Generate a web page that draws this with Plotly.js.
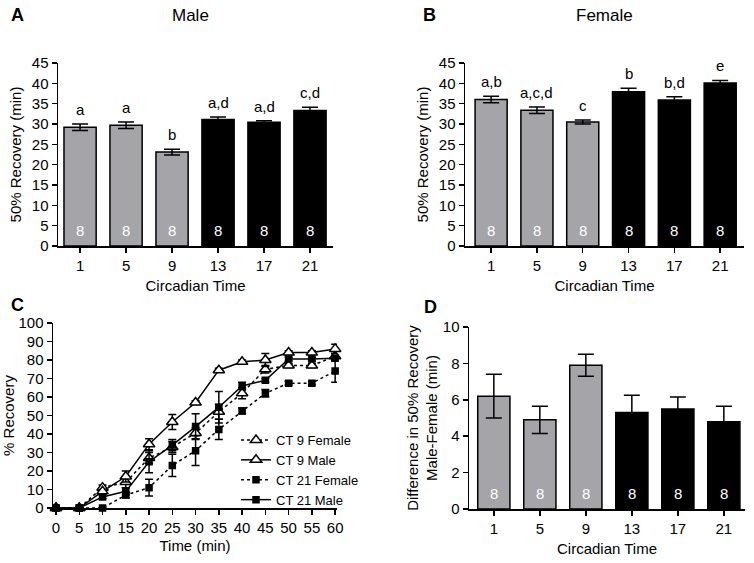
<!DOCTYPE html>
<html>
<head>
<meta charset="utf-8">
<script src="https://cdn.plot.ly/plotly-3.0.1.min.js"></script>
<style>html,body{margin:0;padding:0;background:#fff;}#chart{width:754px;height:563px;}</style>
</head>
<body>
<div id="chart"></div>
<script>
// ---- data ----
const ctLabels = ['1', '5', '9', '13', '17', '21'];
const maleMean = [29.2, 29.7, 23.1, 31.1, 30.4, 33.3];
const maleSem = [0.8, 0.8, 0.7, 0.6, 0.4, 0.8];
const maleLetters = ['a', 'a', 'b', 'a,d', 'a,d', 'c,d'];
const femaleMean = [36.0, 33.4, 30.5, 37.9, 35.9, 40.1];
const femaleSem = [0.8, 0.8, 0.5, 0.9, 0.8, 0.6];
const femaleLetters = ['a,b', 'a,c,d', 'c', 'b', 'b,d', 'e'];
const diffMean = [6.2, 4.9, 7.9, 5.3, 5.5, 4.8];
const diffSem = [1.2, 0.75, 0.6, 0.95, 0.65, 0.85];
const nPerGroup = [8, 8, 8, 8, 8, 8];

const timeMin = [0, 5, 10, 15, 20, 25, 30, 35, 40, 45, 50, 55, 60];
const ct9Female = [0, 0, 11, 14, 27, 33, 40.5, 52, 62, 75, 77, 77, 82];
const ct9FemaleErr = [0, 0, 1.5, 3, 3, 3, 3, 4, 3, 2, 1, 1, 1.5];
const ct9Male = [0, 0, 9, 17, 34.5, 46.5, 57, 74.5, 79, 80, 84, 84, 86];
const ct9MaleErr = [0, 0, 1, 3, 3, 4, 1, 1, 1, 3.5, 1, 1, 2.5];
const ct21Female = [0, 0, 0, 7, 11, 23, 31, 42.5, 52.5, 62, 67.5, 67.5, 74];
const ct21FemaleErr = [0, 0, 0, 1.5, 4.5, 6, 8, 5.5, 1.5, 2, 1, 1, 6];
const ct21Male = [0, 0, 6, 9, 25, 34, 44, 54.5, 66, 69, 80.5, 80.5, 81];
const ct21MaleErr = [0, 0, 1, 2, 6, 3, 7, 8.5, 2, 1, 1, 1, 1.5];

// ---- styles ----
const GRAY = '#a4a4a9';
const barColors = [GRAY, GRAY, GRAY, '#000', '#000', '#000'];
const FONT = 'Arial, "Liberation Sans", sans-serif';
const idx = ctLabels.map((_, i) => i);

function barTrace(vals, errs, xa, ya) {
  return {
    type: 'bar', x: idx, y: vals, xaxis: xa, yaxis: ya, width: 0.7,
    marker: {color: barColors, line: {color: '#000', width: 1.5}},
    error_y: {type: 'data', array: errs, visible: true, color: '#000', thickness: 1.5, width: 8},
    showlegend: false, hoverinfo: 'skip'
  };
}

function lineTrace(name, y, err, dash, symbol, size) {
  return {
    type: 'scatter', mode: 'lines+markers', name: name, x: timeMin, y: y,
    xaxis: 'x3', yaxis: 'y3',
    line: {color: '#000', width: 1.5, dash: dash},
    marker: {symbol: symbol, size: size, color: symbol === 'triangle-up' ? '#fff' : '#000',
             line: {color: '#000', width: 1.5}},
    error_y: {type: 'data', array: err, visible: true, color: '#000', thickness: 1.5, width: 4},
    cliponaxis: false
  };
}

const data = [
  barTrace(maleMean, maleSem, 'x', 'y'),
  barTrace(femaleMean, femaleSem, 'x2', 'y2'),
  barTrace(diffMean, diffSem, 'x4', 'y4'),
  lineTrace('CT 9 Female', ct9Female, ct9FemaleErr, 'dot', 'triangle-up', 10),
  lineTrace('CT 9 Male', ct9Male, ct9MaleErr, 'solid', 'triangle-up', 10),
  lineTrace('CT 21 Female', ct21Female, ct21FemaleErr, 'dot', 'square', 6),
  lineTrace('CT 21 Male', ct21Male, ct21MaleErr, 'solid', 'square', 6)
];

const axisBase = {
  showline: true, linecolor: '#000', linewidth: 1.5, ticks: 'outside', ticklen: 5,
  tickwidth: 1.5, tickcolor: '#000', showgrid: false, zeroline: false,
  tickfont: {family: FONT, size: 15, color: '#000'}, fixedrange: true
};
function catX(domain, range, anchor) {
  return Object.assign({}, axisBase, {
    domain: domain, range: range, anchor: anchor, tickmode: 'array',
    tickvals: idx, ticktext: ctLabels,
    title: {text: 'Circadian Time', font: {family: FONT, size: 15, color: '#000'}, standoff: 8}
  });
}
function valY(domain, range, dtick, anchor, title, standoff) {
  return Object.assign({}, axisBase, {
    domain: domain, range: range, dtick: dtick, tick0: 0, anchor: anchor,
    title: {text: title, font: {family: FONT, size: 15, color: '#000'}, standoff: standoff}
  });
}

const annotations = [];
function addBarLabels(vals, errs, letters, xr, yr) {
  vals.forEach((v, i) => {
    if (letters) {
      annotations.push({xref: xr, yref: yr, x: i, y: v + errs[i], text: letters[i],
        showarrow: false, yanchor: 'bottom', yshift: 4,
        font: {family: FONT, size: 15, color: '#000'}});
    }
    annotations.push({xref: xr, yref: yr, x: i, y: 0, text: String(nPerGroup[i]),
      showarrow: false, yanchor: 'bottom', yshift: 5,
      font: {family: FONT, size: 15, color: '#fff'}});
  });
}
addBarLabels(maleMean, maleSem, maleLetters, 'x', 'y');
addBarLabels(femaleMean, femaleSem, femaleLetters, 'x2', 'y2');
addBarLabels(diffMean, diffSem, null, 'x4', 'y4');

function paperText(text, px, py, size, bold) {
  annotations.push({xref: 'paper', yref: 'paper', x: px / 754, y: 1 - py / 563,
    text: bold ? '<b>' + text + '</b>' : text, showarrow: false,
    xanchor: 'center', yanchor: 'middle',
    font: {family: FONT, size: size, color: '#000'}});
}
paperText('A', 17, 15, 18, true);
paperText('Male', 190, 15, 17, false);
paperText('B', 429, 15, 18, true);
paperText('Female', 604, 15, 17, false);
paperText('C', 17, 305, 18, true);
paperText('D', 430, 307, 18, true);

const layout = {
  width: 754, height: 563,
  margin: {l: 0, r: 0, t: 0, b: 0},
  paper_bgcolor: '#fff', plot_bgcolor: '#fff',
  font: {family: FONT, size: 15, color: '#000'},
  bargap: 0.3,
  xaxis: catX([58 / 754, 333 / 754], [-0.48, 5.5], 'y'),
  yaxis: valY([1 - 246 / 563, 1 - 63 / 563], [0, 45], 5, 'x', '50% Recovery (min)', 6),
  xaxis2: catX([465 / 754, 744 / 754], [-0.57, 5.52], 'y2'),
  yaxis2: valY([1 - 246 / 563, 1 - 63 / 563], [0, 45], 5, 'x2', '50% Recovery (min)', 6),
  xaxis3: Object.assign({}, axisBase, {
    domain: [53 / 754, 337 / 754], range: [-0.65, 60.4], dtick: 5, tick0: 0, anchor: 'y3',
    title: {text: 'Time (min)', font: {family: FONT, size: 15, color: '#000'}, standoff: 6}
  }),
  yaxis3: valY([1 - 508 / 563, 1 - 323 / 563], [0, 100], 10, 'x3', '% Recovery', 6),
  xaxis4: catX([469 / 754, 745 / 754], [-0.54, 5.46], 'y4'),
  yaxis4: valY([1 - 509 / 563, 1 - 327 / 563], [0, 10], 2, 'x4',
    'Difference in 50% Recovery<br>Male-Female (min)', 1),
  legend: {x: 236 / 754, y: 1 - 425 / 563, xanchor: 'left', yanchor: 'top',
    bgcolor: 'rgba(0,0,0,0)', itemwidth: 30, tracegroupgap: 0,
    font: {family: FONT, size: 13, color: '#000'}},
  annotations: annotations
};

Plotly.newPlot('chart', data, layout, {displayModeBar: false, staticPlot: true});
</script>
</body>
</html>
